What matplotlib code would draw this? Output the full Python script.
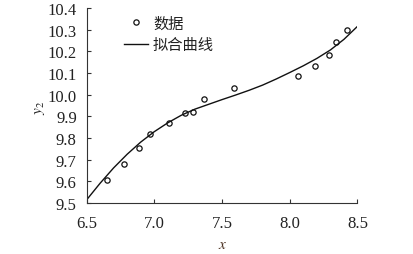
import matplotlib
matplotlib.use("Agg")
import matplotlib.pyplot as plt

# measured points
x_data = [6.651, 6.775, 6.887, 6.971, 7.107, 7.227, 7.286, 7.365, 7.586,
          8.061, 8.186, 8.290, 8.342, 8.420]
y_data = [9.608, 9.681, 9.754, 9.817, 9.869, 9.917, 9.920, 9.981, 10.032,
          10.087, 10.134, 10.183, 10.243, 10.300]

# fitted curve, every 0.1
x_fit = [6.5, 6.6, 6.7, 6.8, 6.9, 7.0, 7.1, 7.2, 7.3, 7.4, 7.5, 7.6, 7.7,
         7.8, 7.9, 8.0, 8.1, 8.2, 8.3, 8.4, 8.5]
y_fit = [9.514, 9.591, 9.662, 9.725, 9.781, 9.829, 9.870, 9.905, 9.933,
         9.955, 9.977, 9.998, 10.020, 10.044, 10.072, 10.102, 10.133,
         10.167, 10.206, 10.255, 10.315]

x_ticks = [6.5, 7.0, 7.5, 8.0, 8.5]
y_ticks = [9.5, 9.6, 9.7, 9.8, 9.9, 10.0, 10.1, 10.2, 10.3, 10.4]

plt.rcParams['font.family'] = ['Liberation Serif', 'Noto Sans CJK SC']
plt.rcParams['mathtext.fontset'] = 'stix'

fig = plt.figure(figsize=(4.14, 2.55), dpi=100)
ax = fig.add_axes([0.209, 0.2, 0.6545, 0.765])

ax.plot(x_data, y_data, 'o', ms=3.8, mfc='white', mec='#111111', mew=0.9,
        label='数据')
ax.plot(x_fit, y_fit, '-', color='#111111', lw=1.0, label='拟合曲线')

ax.set_xlim(6.5, 8.5)
ax.set_ylim(9.5, 10.4)
ax.set_xticks(x_ticks)
ax.set_xticklabels(['%.1f' % v for v in x_ticks])
ax.set_yticks(y_ticks)
ax.set_yticklabels(['%.1f' % v for v in y_ticks])

for side in ['top', 'right']:
    ax.spines[side].set_visible(False)
for side in ['left', 'bottom']:
    ax.spines[side].set_color('#333333')
    ax.spines[side].set_linewidth(0.8)

ax.tick_params(direction='in', length=3, width=0.8, color='#333333',
               labelsize=12, labelcolor='#222222')
ax.tick_params(axis='x', pad=8.5)
ax.tick_params(axis='y', pad=7)

ax.set_xlabel('$x$', fontsize=11, color='#4a3020')
ax.xaxis.set_label_coords(0.504, -0.18)
ax.set_ylabel('$y_2$', fontsize=11, color='#222222')
ax.yaxis.set_label_coords(-0.146, 0.49)

leg = ax.legend(loc='upper left', bbox_to_anchor=(0.138, 0.965), frameon=False,
                borderpad=0, borderaxespad=0, handlelength=1.55,
                handletextpad=0.35, labelspacing=0.28,
                prop={'family': ['Noto Sans CJK SC'], 'size': 11})
for t in leg.get_texts():
    t.set_color('#222222')

fig.savefig('out.png', dpi=100)
